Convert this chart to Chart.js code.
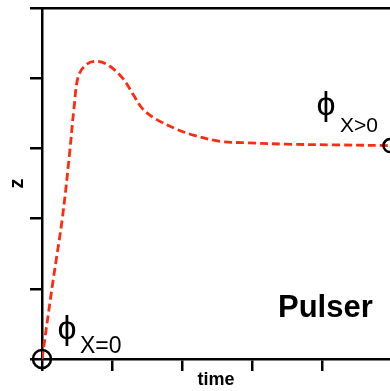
<!DOCTYPE html>
<html>
<head>
<meta charset="utf-8">
<script src="https://cdn.jsdelivr.net/npm/chart.js@4/dist/chart.umd.min.js"></script>
<style>
  html, body { margin: 0; padding: 0; background: #fff; }
  #wrap { width: 390px; height: 391px; }
</style>
</head>
<body>
<div id="wrap"><canvas id="pulserChart" width="390" height="391"></canvas></div>
<script>
// datos de la curva
const tiempo = [0, 0.16, 0.29, 0.39, 0.46, 0.52, 0.64, 0.8, 0.97, 1.16, 1.3, 1.44, 1.64, 1.93, 2.16, 2.54, 2.93, 3.5, 4.2, 4.97];
const zValores = [0, 1.13, 2.0, 2.89, 3.6, 4.03, 4.2, 4.24, 4.17, 3.99, 3.77, 3.56, 3.41, 3.27, 3.19, 3.1, 3.08, 3.06, 3.05, 3.04];

// marcadores (circulos abiertos)
const marcadorX = [0, 4.97];
const marcadorY = [0, 3.04];
const marcadorRadio = [9, 6.5];

const xMin = 0, xMax = 4.97;
const yMin = 0, yMax = 5;

const rojo = "#ff2a10";
const fuente = "'Liberation Sans', Arial, 'DejaVu Sans', sans-serif";

let puntosCurva = tiempo.map((t, i) => ({ x: t, y: zValores[i] }));
let puntosMarca = marcadorX.map((t, i) => ({ x: t, y: marcadorY[i] }));

// textos sobre el grafico (phi con subindice y "Pulser")
const etiquetas = {
    id: "etiquetas",
    afterDraw(chart) {
        let ctx = chart.ctx;
        let sx = chart.scales.x;
        let sy = chart.scales.y;
        let px = v => sx.getPixelForValue(v);
        let py = v => sy.getPixelForValue(v);

        ctx.save();
        ctx.fillStyle = "#000";
        ctx.textBaseline = "alphabetic";

        // phi X=0
        ctx.textAlign = "center";
        ctx.font = "34px " + fuente;
        ctx.fillText("ϕ", px(0.357), py(0.286));
        ctx.textAlign = "left";
        ctx.font = "23px " + fuente;
        ctx.fillText("X=0", px(0.543), py(0.086));

        // phi X>0
        ctx.textAlign = "center";
        ctx.font = "34px " + fuente;
        ctx.fillText("ϕ", px(4.057), py(3.47));
        ctx.textAlign = "left";
        ctx.font = "21px " + fuente;
        ctx.fillText("X>0", px(4.257), py(3.23));

        // Pulser
        ctx.font = "bold 31px " + fuente;
        ctx.fillText("Pulser", px(3.37), py(0.6));
        ctx.restore();
    }
};

const ejeGrid = {
    drawOnChartArea: false,
    drawTicks: true,
    tickLength: 12,
    color: "#000",
    lineWidth: 2.5
};

new Chart(document.getElementById("pulserChart").getContext("2d"), {
    type: "line",
    data: {
        datasets: [
            {
                data: puntosMarca,
                showLine: false,
                pointRadius: marcadorRadio,
                pointHoverRadius: marcadorRadio,
                pointBorderColor: "#000",
                pointBackgroundColor: "rgba(0,0,0,0)",
                pointBorderWidth: 2.5,
                clip: false,
                order: 0
            },
            {
                data: puntosCurva,
                borderColor: rojo,
                borderWidth: 2.8,
                borderDash: [8, 4],
                pointRadius: 0,
                tension: 0.35,
                fill: false,
                order: 1
            }
        ]
    },
    options: {
        responsive: false,
        animation: false,
        layout: { padding: 0, autoPadding: false },
        plugins: {
            legend: { display: false },
            tooltip: { enabled: false }
        },
        scales: {
            x: {
                type: "linear",
                position: "bottom",
                min: xMin,
                max: xMax,
                ticks: { display: false, stepSize: 1, includeBounds: false },
                grid: ejeGrid,
                border: { display: true, color: "#000", width: 2.5 },
                title: {
                    display: true,
                    text: "time",
                    color: "#000",
                    font: { family: fuente, size: 18, weight: "bold" },
                    padding: { top: 0, bottom: 0 }
                },
                afterFit: s => { s.height = 32; }
            },
            xTop: {
                type: "linear",
                position: "top",
                min: xMin,
                max: xMax,
                ticks: { display: false },
                grid: { drawOnChartArea: false, drawTicks: false },
                border: { display: true, color: "#000", width: 2.5 },
                afterFit: s => { s.height = 8; }
            },
            y: {
                type: "linear",
                min: yMin,
                max: yMax,
                ticks: { display: false, stepSize: 1 },
                grid: ejeGrid,
                border: { display: true, color: "#000", width: 2.5 },
                title: {
                    display: true,
                    text: "z",
                    color: "#000",
                    font: { family: fuente, size: 20, weight: "bold" },
                    padding: { top: 5, bottom: 0 }
                },
                afterFit: s => { s.width = 42; }
            }
        }
    },
    plugins: [etiquetas]
});
</script>
</body>
</html>
